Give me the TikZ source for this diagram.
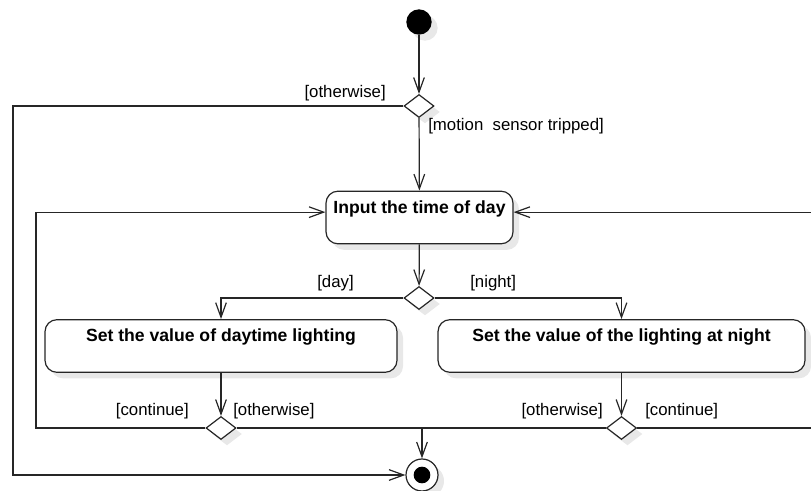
\documentclass[tikz,border=0pt]{standalone}
\usepackage{fontspec}
\setmainfont{Liberation Sans}
\usetikzlibrary{shapes.geometric,arrows.meta,shadows,positioning}
\tikzset{
  wire/.style={draw=black!85,line width=0.9pt},
  flow/.style={wire,-{Straight Barb[length=11pt,width=8pt,line width=0.9pt]}},
  softshadow/.style={drop shadow={shadow xshift=4.5pt,shadow yshift=-4.5pt,fill=black!9,opacity=1}},
  action/.style={rectangle,draw=black!85,line width=0.9pt,rounded corners=9pt,fill=white,softshadow,
    inner xsep=2pt,inner ysep=4pt,text height=12.5pt,text depth=19pt,
    font=\fontsize{13.2}{15}\selectfont\bfseries},
  decision/.style={diamond,draw=black!85,line width=0.9pt,fill=white,softshadow,
    inner sep=0pt,minimum width=22.5pt,minimum height=17.25pt},
  startnode/.style={circle,fill=black,softshadow,inner sep=0pt,minimum size=19pt},
  endnode/.style={circle,draw=black!85,line width=0.9pt,fill=white,softshadow,inner sep=0pt,minimum size=24pt},
  enddot/.style={circle,fill=black,inner sep=0pt,minimum size=12.5pt},
  guard/.style={inner sep=0pt,font=\fontsize{12.6}{14}\selectfont}
}
\begin{document}
\begin{tikzpicture}[x=0.75pt,y=-0.75pt]
  \useasboundingbox (0,0) rectangle (811,491);
  \clip (0,0) rectangle (811,491);
  % nodes
  \node[startnode] (start) at (419,22) {};
  \node[decision] (d1) at (419,106) {};
  \node[action,minimum width=140.25pt] (input) at (419.5,217.5) {Input the time of day};
  \node[decision] (d2) at (419,298) {};
  \node[action,minimum width=264pt] (day) at (221,346) {Set the value of daytime lighting};
  \node[action,minimum width=275.25pt] (night) at (621.5,346) {Set the value of the lighting at night};
  \node[decision] (d3) at (221,428) {};
  \node[decision] (d4) at (621.5,428) {};
  \node[endnode] (end) at (422,475) {};
  \node[enddot] (enddot) at (end) {};
  \coordinate (outer) at (13,475);
  \coordinate (merge) at (422,428);
  \coordinate (loopl) at (36,428);
  \coordinate (loopr) at (830,428);
  % guards
  \node[guard,anchor=east] (gother1) at (386,93) {[otherwise]};
  \node[guard,anchor=west] (gmotion) at (428,126) {[motion~~sensor tripped]};
  \node[guard,anchor=east] (gday) at (354,283) {[day]};
  \node[guard,anchor=west] (gnight) at (470,283) {[night]};
  \node[guard,anchor=east] (gcont1) at (189,411) {[continue]};
  \node[guard,anchor=west] (gother2) at (233,411) {[otherwise]};
  \node[guard,anchor=east] (gother3) at (603,411) {[otherwise]};
  \node[guard,anchor=west] (gcont2) at (645,411) {[continue]};
  % connectors
  \draw[flow] (start) -- (d1);
  \draw[flow] (d1) -- (input);
  \draw[flow] (d1.west) -| (outer) -- (end);
  \draw[flow] (input) -- (d2);
  \draw[flow] (d2.west) -| (day.north);
  \draw[flow] (d2.east) -| (night.north);
  \draw[flow] (day) -- (d3);
  \draw[flow] (night) -- (d4);
  \draw[wire] (d3.east) -- (merge) -- (d4.west);
  \draw[flow] (merge) -- (end);
  \draw[flow] (d3.west) -- (loopl) |- ([yshift=4pt]input.west);
  \draw[flow] (d4.east) -- (loopr) |- ([yshift=4pt]input.east);
\end{tikzpicture}
\end{document}
